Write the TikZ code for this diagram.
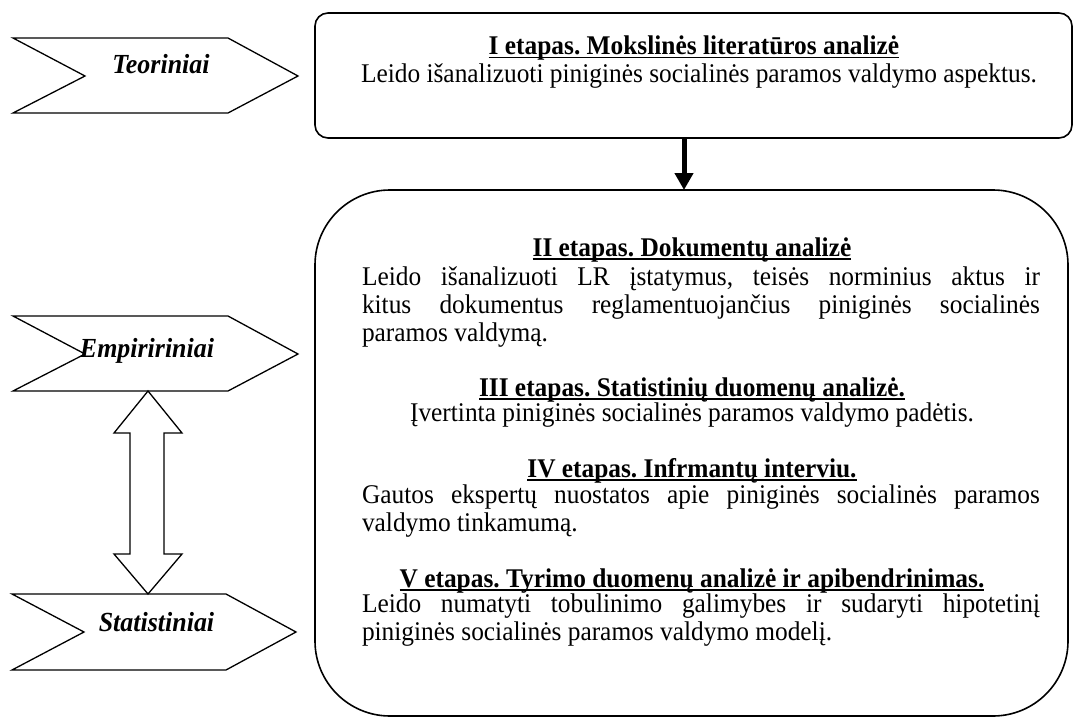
\documentclass[tikz,border=0pt]{standalone}
\usepackage{fontspec}
\setmainfont{Liberation Serif}[FakeStretch=0.94]
\usetikzlibrary{arrows.meta,calc}
\frenchspacing

% underline drawn as a fixed rule below the baseline
\newlength\ulwidth
\newcommand\ulhead[1]{\settowidth\ulwidth{#1}\rlap{\rule[-3.5pt]{\ulwidth}{1.9pt}}#1}

\tikzset{
  every node/.style={inner sep=0pt, outer sep=0pt,
    font=\fontsize{27pt}{28pt}\selectfont},
  chevron/.style={draw, line width=1.3pt, line join=miter},
  chevlabel/.style={font=\fontsize{27.6pt}{28pt}\selectfont\bfseries\itshape, anchor=base},
  stagebox/.style={draw, line width=1.6pt, rectangle},
  heading/.style={font=\fontsize{27pt}{28pt}\selectfont\bfseries, anchor=base},
  bodytext/.style={anchor=base west, text width=678pt, align=justify,
    execute at begin node={\hyphenpenalty=10000\exhyphenpenalty=10000\emergencystretch=4em
      \spaceskip=\fontdimen2\font plus 3\fontdimen3\font\relax}},
  bodycenter/.style={anchor=base},
  flowarrow/.style={line width=5pt, -{Triangle[length=17pt,width=18pt]}},
  dblarrow/.style={draw, line width=1.3pt, line join=miter, fill=white},
}

\begin{document}
\begin{tikzpicture}[x=1pt, y=-1pt]
\useasboundingbox (0,0) rectangle (1074,717);

% chevrons on the left
\draw[chevron] (13,38) -- (228,38) -- (298,76) -- (228,113) -- (13,113) -- (85,76) -- cycle;
\draw[chevron] (13,316) -- (228,316) -- (298,354) -- (228,391) -- (13,391) -- (85,354) -- cycle;
\draw[chevron] (12,594) -- (226,594) -- (296,632) -- (226,670) -- (12,670) -- (84,632) -- cycle;
\node[chevlabel] (teor) at (161,74) {Teoriniai};
\node[chevlabel] (emp) at (147,357) {Empiririniai};
\node[chevlabel] (stat) at (156.5,631) {Statistiniai};
\coordinate (emp-bot) at (148,391);
\coordinate (stat-top) at (148,594);

% double arrow between the empirical and statistical methods
\draw[dblarrow] (emp-bot) -- ($(emp-bot)+(34,42)$) -- ($(emp-bot)+(16,42)$)
  -- ($(stat-top)+(16,-40)$) -- ($(stat-top)+(34,-40)$) -- (stat-top)
  -- ($(stat-top)+(-34,-40)$) -- ($(stat-top)+(-18,-40)$)
  -- ($(emp-bot)+(-18,42)$) -- ($(emp-bot)+(-34,42)$) -- cycle;

% stage boxes
\node[stagebox, rounded corners=13pt, minimum width=757pt, minimum height=125pt]
  (box1) at (693.5,75.5) {};
\node[stagebox, rounded corners=75pt, minimum width=753pt, minimum height=526pt]
  (box2) at (691.5,453) {};

\coordinate (ax) at (684,0);
\draw[flowarrow] (box1.south -| ax) -- (box2.north -| ax);

% stage I
\node[heading] (h1) at (694,55) {\ulhead{I etapas. Mokslinės literatūros analizė}};
\node[bodycenter] (t1) at (699,82) {Leido išanalizuoti piniginės socialinės paramos valdymo aspektus.};

% stage II
\node[heading] (h2) at (692,256) {\ulhead{II etapas. Dokumentų analizė}};
\node[bodytext] (t2) at (362,285) {Leido išanalizuoti LR įstatymus, teisės norminius aktus ir\linebreak kitus dokumentus reglamentuojančius piniginės socialinės\linebreak paramos valdymą.};

% stage III
\node[heading] (h3) at (692,396) {\ulhead{III etapas. Statistinių duomenų analizė.}};
\node[bodycenter] (t3) at (692,421) {Įvertinta piniginės socialinės paramos valdymo padėtis.};

% stage IV
\node[heading] (h4) at (692,477) {\ulhead{IV etapas. Infrmantų interviu.}};
\node[bodytext] (t4) at (362,503) {Gautos ekspertų nuostatos apie piniginės socialinės paramos\linebreak valdymo tinkamumą.};

% stage V
\node[heading] (h5) at (692,587) {\ulhead{V etapas. Tyrimo duomenų analizė ir apibendrinimas.}};
\node[bodytext] (t5) at (362,612) {Leido numatyti tobulinimo galimybes ir sudaryti hipotetinį\linebreak piniginės socialinės paramos valdymo modelį.};
\end{tikzpicture}
\end{document}
